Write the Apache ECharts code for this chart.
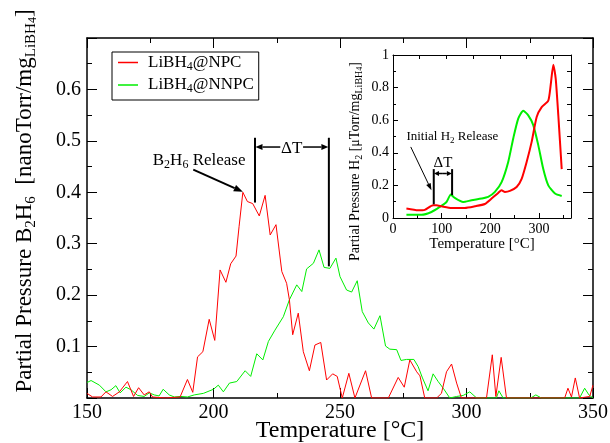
<!DOCTYPE html>
<html><head><meta charset="utf-8">
<script src="https://cdn.jsdelivr.net/npm/echarts@6/dist/echarts.min.js"></script>
<style>html,body{margin:0;padding:0;background:#fff}#c{width:610px;height:443px}</style>
</head><body><div id="c"></div><script>
// ---- main plot data (B2H6) ----
const npcT = [150.0,152.2,155.5,157.5,160.1,162.8,166.0,168.4,170.4,172.6,174.6,175.9,180.9,186.8,189.7,191.8,193.7,195.8,198.3,200.5,202.6,204.9,206.8,208.9,210.1,211.6,213.4,215.5,218.1,220.4,222.4,224.7,227.0,228.9,230.0,231.3,233.5,235.5,237.9,240.1,242.4,244.7,247.1,248.9,250.9,253.5,255.9,260.1,262.5,269.1,273.0,275.4,277.6,280.3,281.6,283.5,288.2,290.1,292.1,294.1,296.1,298.0,307.9,310.2,311.6,313.7,315.8,338.8,340.1,341.5,343.0,344.7,348.7,350.0];
const npcP = [0.009,0.002,0.002,0.012,0.003,0.012,0.032,0.003,0.020,0.006,0.012,0.002,0.000,0.002,0.036,0.011,0.080,0.090,0.153,0.112,0.249,0.225,0.261,0.276,0.333,0.400,0.382,0.378,0.354,0.394,0.317,0.337,0.246,0.223,0.191,0.123,0.165,0.090,0.053,0.103,0.108,0.035,0.047,0.042,0.000,0.048,0.000,0.053,0.000,0.000,0.040,0.021,0.074,0.051,0.043,0.000,0.000,0.009,0.051,0.066,0.029,0.000,0.000,0.084,0.003,0.079,0.000,0.000,0.019,0.002,0.039,0.000,0.003,0.025];
const nnpcT = [150.0,151.6,154.9,157.5,159.5,161.4,163.1,165.4,167.4,170.0,172.6,174.6,176.6,178.5,180.1,182.5,184.5,187.1,189.7,192.4,196.0,200.0,201.9,203.9,206.3,209.2,212.5,214.7,217.1,219.5,221.7,224.3,227.6,230.0,232.9,234.9,236.8,239.5,241.7,243.7,246.0,248.4,250.0,252.6,254.6,256.8,258.8,261.2,263.4,265.8,268.0,269.7,272.4,274.1,276.3,279.2,280.9,282.6,284.8,286.8,288.8,290.8,293.4,296.1,298.7,301.3,304.0,311.8,312.8,314.5,325.4,327.4,329.6,344.7,346.7,348.4,350.0];
const nnpcP = [0.030,0.034,0.025,0.012,0.016,0.024,0.010,0.021,0.016,0.005,0.003,0.010,0.006,0.004,0.017,0.006,0.002,0.003,0.002,0.006,0.009,0.017,0.025,0.012,0.029,0.032,0.053,0.042,0.086,0.074,0.110,0.132,0.158,0.191,0.220,0.207,0.251,0.262,0.288,0.254,0.252,0.272,0.236,0.210,0.206,0.228,0.168,0.146,0.134,0.160,0.101,0.095,0.094,0.073,0.075,0.075,0.061,0.039,0.014,0.047,0.032,0.019,0.000,0.003,0.005,0.012,0.000,0.000,0.014,0.000,0.000,0.006,0.000,0.000,0.019,0.006,0.000];
// ---- inset data (H2) ----
const insNpcT = [27.6,51.5,65.3,82.4,89.4,99.7,120.3,147.7,168.3,188.9,202.7,216.3,223.3,230.1,240.4,254.2,264.5,274.8,285.1,295.4,305.7,319.3,324.2,329.6,334.5,339.9,346.9];
const insNpcP = [0.058,0.047,0.050,0.078,0.078,0.072,0.062,0.062,0.072,0.086,0.119,0.154,0.170,0.160,0.166,0.190,0.240,0.344,0.467,0.620,0.680,0.720,0.815,0.940,0.857,0.630,0.300];
const insNnpcT = [27.6,58.5,79.1,96.2,110.0,118.8,127.1,144.2,161.5,182.1,195.7,209.5,223.3,236.9,247.2,257.5,267.8,278.1,288.4,298.7,309.0,319.3,333.1,346.9];
const insNnpcP = [0.020,0.020,0.037,0.068,0.098,0.144,0.123,0.098,0.109,0.119,0.129,0.160,0.220,0.344,0.488,0.610,0.658,0.630,0.570,0.447,0.300,0.200,0.150,0.135];
// ---- names / labels ----
const seriesNames = ['LiBH4@NPC', 'LiBH4@NNPC'];
const legendLabels = ['{a|LiBH}{s|4}{a|@NPC}', '{a|LiBH}{s|4}{a|@NNPC}'];
const mainXTitle = 'Temperature [°C]';
const mainYTitle = '{a|Partial Pressure B}{s|2}{a|H}{s|6}{a|  [nanoTorr/mg}{s|LiBH}{ss|4}{a|]}';
const insetXTitle = 'Temperature [°C]';
const insetYTitle = '{a|Partial Pressure H}{s|2}{a| [μTorr/mg}{s|LiBH}{ss|4}{a|]}';
const releaseLabel = '{a|B}{s|2}{a|H}{s|6}{a| Release}';
const insetReleaseLabel = '{a|Initial H}{s|2}{a| Release}';
const deltaLabel = 'ΔT';

const FF = '"Liberation Serif", "Times New Roman", serif';
const RED = '#ff0000', GREEN = '#00ee00';
const zip = (a, b) => a.map((v, i) => [v, b[i]]);

const chart = echarts.init(document.getElementById('c'), null, {renderer: 'canvas'});

function mainAxisCommon() {
  return {
    axisLine: {show: true, onZero: false, lineStyle: {color: '#000', width: 1.5}},
    splitLine: {show: false},
  };
}

const option = {
  animation: false,
  backgroundColor: '#fff',
  grid: [
    {left: 87, top: 38, right: 17, bottom: 45, outerBoundsMode: 'none', containLabel: false},
    {left: 393, top: 55, width: 178, height: 163, outerBoundsMode: 'none', containLabel: false}
  ],
  legend: {
    data: seriesNames.map(n => ({name: n, icon: 'rect'})),
    orient: 'vertical', left: 112, top: 52,
    itemWidth: 20, itemHeight: 1.5, itemGap: 4,
    padding: [2, 5, 5, 6],
    borderColor: '#000', borderWidth: 1, borderRadius: 0,
    backgroundColor: '#fff',
    formatter: n => legendLabels[seriesNames.indexOf(n)],
    textStyle: {
      padding: [0, 0, 0, 5],
      rich: {
        a: {fontFamily: FF, fontSize: 17, color: '#000', lineHeight: 20},
        s: {fontFamily: FF, fontSize: 12, color: '#000', lineHeight: 10, verticalAlign: 'bottom'}
      }
    }
  },
  xAxis: [
    Object.assign(mainAxisCommon(), {
      type: 'value', gridIndex: 0, position: 'bottom', min: 150, max: 350, interval: 50,
      axisTick: {inside: true, length: 10, lineStyle: {color: '#000', width: 1}},
      minorTick: {show: true, splitNumber: 2, length: 5, lineStyle: {color: '#000', width: 1}},
      axisLabel: {fontFamily: FF, fontSize: 20, color: '#000', margin: 5},
      name: mainXTitle, nameLocation: 'middle', nameGap: 21, nameMoveOverlap: false,
      nameTextStyle: {fontFamily: FF, fontSize: 24, color: '#000'}
    }),
    Object.assign(mainAxisCommon(), {
      type: 'value', gridIndex: 0, position: 'top', min: 150, max: 350, interval: 50,
      axisTick: {inside: true, length: 10, lineStyle: {color: '#000', width: 1}},
      minorTick: {show: true, splitNumber: 2, length: 5, lineStyle: {color: '#000', width: 1}},
      axisLabel: {show: false}
    }),
    {
      type: 'value', gridIndex: 1, position: 'bottom', min: 0, max: 366, interval: 100,
      axisLine: {onZero: false, lineStyle: {color: '#000', width: 1}},
      splitLine: {show: false},
      axisTick: {inside: true, length: 5, lineStyle: {color: '#000'}},
      minorTick: {show: true, splitNumber: 2, length: 3, lineStyle: {color: '#000'}},
      axisLabel: {fontFamily: FF, fontSize: 14, color: '#000', margin: 4, showMaxLabel: false},
      name: insetXTitle, nameLocation: 'middle', nameGap: 19,
      nameTextStyle: {fontFamily: FF, fontSize: 15, color: '#000'}
    },
    {
      type: 'value', gridIndex: 1, position: 'top', min: 0, max: 366, interval: 55,
      axisLine: {onZero: false, lineStyle: {color: '#000', width: 1}},
      splitLine: {show: false},
      axisTick: {inside: true, length: 4, lineStyle: {color: '#000'}},
      axisLabel: {show: false}
    }
  ],
  yAxis: [
    Object.assign(mainAxisCommon(), {
      type: 'value', gridIndex: 0, position: 'left', min: 0, max: 0.7, interval: 0.1,
      axisTick: {inside: true, length: 10, lineStyle: {color: '#000', width: 1}},
      minorTick: {show: true, splitNumber: 2, length: 5, lineStyle: {color: '#000', width: 1}},
      axisLabel: {fontFamily: FF, fontSize: 20, color: '#000', margin: 6, showMinLabel: false, showMaxLabel: false},
      name: mainYTitle, nameLocation: 'middle', nameGap: 48, nameRotate: 90,
      nameTextStyle: {
        padding: [0, 0, 0, 34],
        rich: {
          a: {fontFamily: FF, fontSize: 23, color: '#000', lineHeight: 28},
          s: {fontFamily: FF, fontSize: 15, color: '#000', lineHeight: 13, verticalAlign: 'bottom'},
          ss: {fontFamily: FF, fontSize: 12, color: '#000', lineHeight: 4, verticalAlign: 'bottom'}
        }
      }
    }),
    Object.assign(mainAxisCommon(), {
      type: 'value', gridIndex: 0, position: 'right', min: 0, max: 0.7, interval: 0.1,
      axisTick: {inside: true, length: 10, lineStyle: {color: '#000', width: 1}},
      minorTick: {show: true, splitNumber: 2, length: 5, lineStyle: {color: '#000', width: 1}},
      axisLabel: {show: false}
    }),
    {
      type: 'value', gridIndex: 1, position: 'left', min: 0, max: 1, interval: 0.2,
      axisLine: {onZero: false, lineStyle: {color: '#000', width: 1}},
      splitLine: {show: false},
      axisTick: {inside: true, length: 5, lineStyle: {color: '#000'}},
      minorTick: {show: true, splitNumber: 2, length: 3, lineStyle: {color: '#000'}},
      axisLabel: {fontFamily: FF, fontSize: 14, color: '#000', margin: 4},
      name: insetYTitle, nameLocation: 'middle', nameGap: 29, nameRotate: 90,
      nameTextStyle: {
        padding: [0, 50, 0, 0],
        rich: {
          a: {fontFamily: FF, fontSize: 14, color: '#000', lineHeight: 17},
          s: {fontFamily: FF, fontSize: 10, color: '#000', lineHeight: 8, verticalAlign: 'bottom'},
          ss: {fontFamily: FF, fontSize: 8, color: '#000', lineHeight: 3, verticalAlign: 'bottom'}
        }
      }
    },
    {
      type: 'value', gridIndex: 1, position: 'right', min: 0, max: 1, interval: 0.2,
      axisLine: {onZero: false, lineStyle: {color: '#000', width: 1}},
      splitLine: {show: false},
      axisTick: {inside: true, length: 4, lineStyle: {color: '#000'}},
      minorTick: {show: true, splitNumber: 2, length: 4, lineStyle: {color: '#000'}},
      axisLabel: {show: false}
    }
  ],
  series: [
    {name: seriesNames[0], type: 'line', xAxisIndex: 0, yAxisIndex: 0, data: zip(npcT, npcP),
     symbol: 'none', color: RED, lineStyle: {color: RED, width: 1}, z: 3},
    {name: seriesNames[1], type: 'line', xAxisIndex: 0, yAxisIndex: 0, data: zip(nnpcT, nnpcP),
     symbol: 'none', color: GREEN, lineStyle: {color: GREEN, width: 1}, z: 2},
    {name: 'inset NPC', type: 'line', xAxisIndex: 2, yAxisIndex: 2, data: zip(insNpcT, insNpcP),
     symbol: 'none', smooth: 0.2, color: RED, lineStyle: {color: RED, width: 2}, z: 3},
    {name: 'inset NNPC', type: 'line', xAxisIndex: 2, yAxisIndex: 2, data: zip(insNnpcT, insNnpcP),
     symbol: 'none', smooth: 0.2, color: GREEN, lineStyle: {color: GREEN, width: 2}, z: 2}
  ]
};
chart.setOption(option);

// ---- annotations, placed through the axes ----
const pm = pt => chart.convertToPixel({seriesIndex: 0}, pt);
const pi = pt => chart.convertToPixel({seriesIndex: 2}, pt);
function line(a, b, w) {
  return {type: 'line', z: 100, shape: {x1: a[0], y1: a[1], x2: b[0], y2: b[1]}, style: {stroke: '#000', lineWidth: w}};
}
function arrow(a, b, len, wid, lw) {
  const dx = b[0] - a[0], dy = b[1] - a[1], L = Math.hypot(dx, dy), ux = dx / L, uy = dy / L;
  const base = [b[0] - ux * len, b[1] - uy * len];
  const p1 = [base[0] - uy * wid / 2, base[1] + ux * wid / 2];
  const p2 = [base[0] + uy * wid / 2, base[1] - ux * wid / 2];
  return [line(a, base, lw), {type: 'polygon', z: 100, shape: {points: [b, p1, p2]}, style: {fill: '#000'}}];
}
function text(p, t, rich, align) {
  return {type: 'text', z: 100, x: p[0], y: p[1], style: {text: t, rich: rich, align: align || 'left', verticalAlign: 'middle', fill: '#000'}};
}
const richMain = {
  a: {fontFamily: FF, fontSize: 17, color: '#000', lineHeight: 20},
  s: {fontFamily: FF, fontSize: 12, color: '#000', lineHeight: 9, verticalAlign: 'bottom'}
};
const richInset = {
  a: {fontFamily: FF, fontSize: 13, color: '#000', lineHeight: 16},
  s: {fontFamily: FF, fontSize: 9, color: '#000', lineHeight: 7, verticalAlign: 'bottom'}
};
const g = [];
// main
g.push(text(pm([176.0, 0.462]), releaseLabel, richMain));
g.push(...arrow(pm([192.0, 0.444]), pm([211.6, 0.401]), 9, 7, 2));
g.push(line(pm([216.4, 0.380]), pm([216.4, 0.506]), 2));
g.push(line(pm([245.6, 0.256]), pm([245.6, 0.506]), 2));
g.push(...arrow(pm([226.4, 0.488]), pm([216.6, 0.488]), 7, 6, 1.5));
g.push(...arrow(pm([235.4, 0.488]), pm([245.4, 0.488]), 7, 6, 1.5));
g.push(text(pm([230.9, 0.486]), '{a|' + deltaLabel + '}', richMain, 'center'));
// inset
g.push(text(pi([27.6, 0.498]), insetReleaseLabel, richInset));
g.push(...arrow(pi([36.5, 0.436]), pi([79.1, 0.170]), 7, 5, 1));
g.push(line(pi([83.8, 0.084]), pi([83.8, 0.300]), 2));
g.push(line(pi([121.5, 0.140]), pi([121.5, 0.300]), 2));
const mid = pi([102.6, 0.273]);
g.push(...arrow(mid, pi([84.3, 0.273]), 5, 5, 1.5));
g.push(...arrow(mid, pi([121.0, 0.273]), 5, 5, 1.5));
g.push(text(pi([102.6, 0.334]), '{a|' + deltaLabel + '}', {a: {fontFamily: FF, fontSize: 15, color: '#000', lineHeight: 16}}, 'center'));
chart.setOption({graphic: g});
</script></body></html>
